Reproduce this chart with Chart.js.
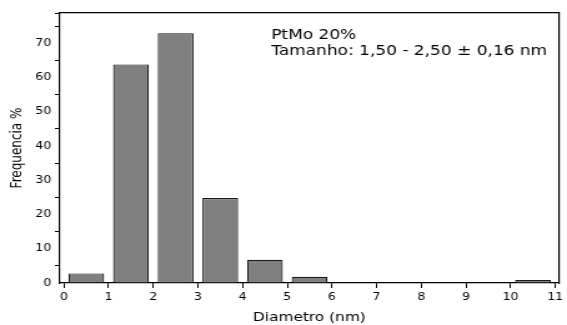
<!DOCTYPE html>
<html>
<head>
<meta charset="utf-8">
<script src="https://cdn.jsdelivr.net/npm/chart.js@4/dist/chart.umd.min.js"></script>
<style>
    body { margin: 0; background: #fff; }
</style>
</head>
<body>
<!-- the original picture is stretched sideways, so draw narrow and widen it with an inline style -->
<canvas id="hist" width="454" height="325" style="display:block;width:567px;height:325px"></canvas>
<script>
// histogram bins (nm) and frequency in %
let binCenters = [0.5, 1.5, 2.5, 3.5, 4.5, 5.5, 6.5, 7.5, 8.5, 9.5, 10.5];
let frequency = [2.8, 63.8, 72.9, 24.8, 6.8, 1.8, 0, 0, 0, 0, 0.9];
let noteLines = ['PtMo 20%', 'Tamanho: 1,50 - 2,50 \u00b1 0,16 nm'];

const font = '"DejaVu Sans", sans-serif';

let notePlugin = {
    id: 'notes',
    afterDatasetsDraw: function (chart) {
        let ctx = chart.ctx;
        let x = chart.scales.x.getPixelForValue(4.64);
        ctx.save();
        ctx.font = '13.6px ' + font;
        ctx.fillStyle = '#000';
        ctx.textBaseline = 'alphabetic';
        ctx.fillText(noteLines[0], x, chart.scales.y.getPixelForValue(71.3));
        ctx.fillText(noteLines[1], x, chart.scales.y.getPixelForValue(66.4));
        ctx.restore();
    }
};

new Chart(document.getElementById('hist'), {
    type: 'bar',
    data: {
        datasets: [
            {
                label: 'Frequencia',
                data: binCenters.map(function (c, i) { return {x: c, y: frequency[i]}; }),
                backgroundColor: '#808080',
                borderColor: '#1a1a1a',
                borderWidth: 1.2,
                borderSkipped: 'start',
                barPercentage: 0.8,
                categoryPercentage: 1
            }
        ]
    },
    options: {
        responsive: false,
        animation: false,
        devicePixelRatio: 1,
        layout: {padding: {top: 13, right: 1, left: 0, bottom: 0}},
        plugins: {legend: {display: false}, tooltip: {enabled: false}},
        scales: {
            x: {
                type: 'linear',
                position: 'bottom',
                offset: false,
                min: -0.09,
                max: 11.08,
                afterFit: function (scale) { scale.height = 42; },
                ticks: {
                    stepSize: 1,
                    includeBounds: false,
                    autoSkip: false,
                    maxRotation: 0,
                    padding: 3,
                    color: '#000',
                    font: {family: font, size: 10}
                },
                grid: {offset: false, drawOnChartArea: false, drawTicks: true, tickLength: 5, color: '#000'},
                border: {display: true, color: '#000', width: 1.2},
                title: {
                    display: true,
                    text: 'Diametro (nm)',
                    color: '#000',
                    font: {family: font, size: 12.3},
                    padding: {top: 0, bottom: 0}
                }
            },
            y: {
                min: 0,
                max: 78.8,
                afterFit: function (scale) { scale.width = 48; },
                ticks: {
                    stepSize: 5,
                    autoSkip: false,
                    padding: 3,
                    color: '#000',
                    font: {family: font, size: 10},
                    callback: function (value) {
                        return value % 10 === 0 ? value : '';
                    }
                },
                grid: {
                    drawOnChartArea: false,
                    drawTicks: true,
                    tickLength: 4,
                    tickColor: function (ctx) {
                        return ctx.tick && ctx.tick.value % 10 === 0 ? 'rgba(0,0,0,0)' : '#000';
                    }
                },
                border: {display: true, color: '#000', width: 1.2},
                title: {
                    display: true,
                    text: 'Frequencia %',
                    color: '#000',
                    font: {family: font, size: 12},
                    padding: {top: 7, bottom: 0}
                }
            },
            xTop: {
                type: 'linear',
                position: 'top',
                ticks: {display: false},
                grid: {display: false, drawTicks: false},
                border: {display: true, color: '#000', width: 1.2}
            },
            yRight: {
                type: 'linear',
                position: 'right',
                ticks: {display: false},
                grid: {display: false, drawTicks: false},
                border: {display: true, color: '#000', width: 1.2}
            }
        }
    },
    plugins: [notePlugin]
});
</script>
</body>
</html>
